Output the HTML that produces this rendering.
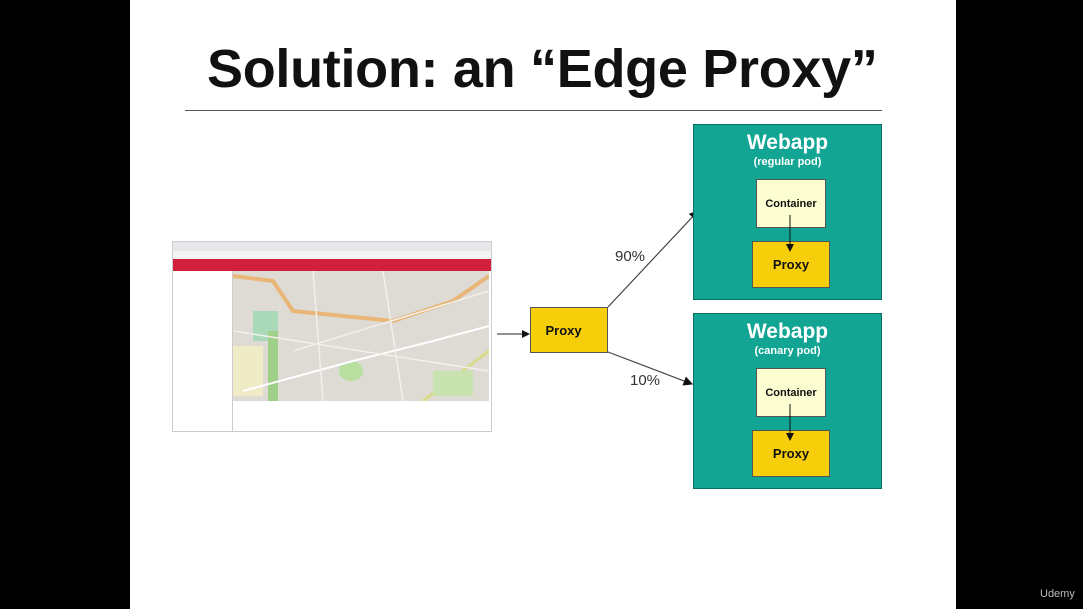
<!DOCTYPE html>
<html><head><meta charset="utf-8"><style>
body{margin:0;width:1083px;height:609px;background:#000;position:relative;overflow:hidden;font-family:"Liberation Sans",sans-serif}
.slide{position:absolute;left:130px;top:0;width:826px;height:609px;background:#fff}
.a{position:absolute}
.title{left:207px;top:38px;font-size:54px;font-weight:bold;color:#111;white-space:nowrap;letter-spacing:-0.3px}
.pod{background:#12a594;border:1px solid #0d6e62;width:187px;height:174px}
.pod .h{position:absolute;left:0;width:100%;text-align:center;color:#fff;font-weight:bold}
.box{display:flex;align-items:center;justify-content:center;font-weight:bold;color:#111;border:1px solid #555}
</style></head><body>
<div class="slide"></div>
<div class="a title">Solution: an “Edge Proxy”</div>
<div class="a" style="left:185px;top:110px;width:697px;height:1px;background:#555"></div>

<!-- browser screenshot -->
<div class="a" style="left:172px;top:241px;width:318px;height:189px;background:#fff;border:1px solid #ccc">
 <div class="a" style="left:0;top:0;width:318px;height:9px;background:#e8e8ec"></div>
 <div class="a" style="left:0;top:9px;width:318px;height:8px;background:#f4f4f4"></div>
 <div class="a" style="left:0;top:17px;width:318px;height:12px;background:#d21f3c"></div>
 <div class="a" style="left:60px;top:29px;width:256px;height:130px;background:#e5e1dc;overflow:hidden">
  <svg width="256" height="130">
   <rect x="0" y="0" width="256" height="130" fill="#dedad4"/>
   <rect x="20" y="40" width="25" height="30" fill="#a9d9b9"/>
   <rect x="35" y="60" width="10" height="70" fill="#9fd08a"/>
   <rect x="0" y="75" width="30" height="50" fill="#efebc6"/>
   <ellipse cx="118" cy="100" rx="12" ry="10" fill="#b8dfa0"/>
   <path d="M0 5 L40 10 L60 40 L160 50 L220 30 L256 5" stroke="#e9b677" stroke-width="4" fill="none"/>
   <path d="M10 120 L120 90 L200 70 L256 55" stroke="#fff" stroke-width="2" fill="none"/>
   <path d="M190 130 L256 80" stroke="#d8da8a" stroke-width="3" fill="none"/>
   <path d="M80 0 L90 130 M150 0 L170 130 M0 60 L256 100 M60 80 L256 20" stroke="#f2f0ec" stroke-width="1.5" fill="none"/>
   <rect x="200" y="100" width="40" height="25" fill="#c9e3b0"/>
  </svg>
 </div>
 <div class="a" style="left:59px;top:29px;width:1px;height:160px;background:#ccc"></div>
</div>

<svg class="a" style="left:0;top:0" width="1083" height="609">
 <defs><marker id="ar" markerWidth="8" markerHeight="8" refX="7" refY="4" orient="auto"><path d="M0,0 L8,4 L0,8z" fill="#111"/></marker></defs>
 <line x1="497" y1="334" x2="529" y2="334" stroke="#222" stroke-width="1" marker-end="url(#ar)"/>
 <line x1="608" y1="307" x2="698" y2="211" stroke="#444" stroke-width="1.2" marker-end="url(#ar)"/>
 <line x1="608" y1="352" x2="692" y2="384" stroke="#444" stroke-width="1.2" marker-end="url(#ar)"/>
 <text x="615" y="261" font-family="Liberation Sans" font-size="15" fill="#333">90%</text>
 <text x="630" y="385" font-family="Liberation Sans" font-size="15" fill="#333">10%</text>
</svg>

<div class="a box" style="left:530px;top:307px;width:76px;height:44px;background:#f6cf0a;font-size:13px">Proxy&nbsp;&nbsp;&nbsp;</div>

<div class="a pod" style="left:693px;top:124px">
 <div class="h" style="top:6px;font-size:21px">Webapp</div>
 <div class="h" style="top:31px;font-size:11px">(regular pod)</div>
</div>
<div class="a pod" style="left:693px;top:313px">
 <div class="h" style="top:6px;font-size:21px">Webapp</div>
 <div class="h" style="top:31px;font-size:11px">(canary pod)</div>
</div>

<div class="a box" style="left:756px;top:179px;width:68px;height:47px;background:#fdfdd2;font-size:11px">Container</div>
<div class="a box" style="left:752px;top:241px;width:76px;height:45px;background:#f6cf0a;font-size:13px">Proxy</div>
<div class="a box" style="left:756px;top:368px;width:68px;height:47px;background:#fdfdd2;font-size:11px">Container</div>
<div class="a box" style="left:752px;top:430px;width:76px;height:45px;background:#f6cf0a;font-size:13px">Proxy</div>

<svg class="a" style="left:0;top:0" width="1083" height="609">
 <defs><marker id="ar2" markerWidth="8" markerHeight="8" refX="7" refY="4" orient="auto"><path d="M0,0 L8,4 L0,8z" fill="#111"/></marker></defs>
 <line x1="790" y1="215" x2="790" y2="251" stroke="#111" marker-end="url(#ar2)"/>
 <line x1="790" y1="404" x2="790" y2="440" stroke="#111" marker-end="url(#ar2)"/>
</svg>
<div class="a" style="left:1040px;top:588px;color:#bbb;font-size:11px">Udemy</div>
</body></html>
